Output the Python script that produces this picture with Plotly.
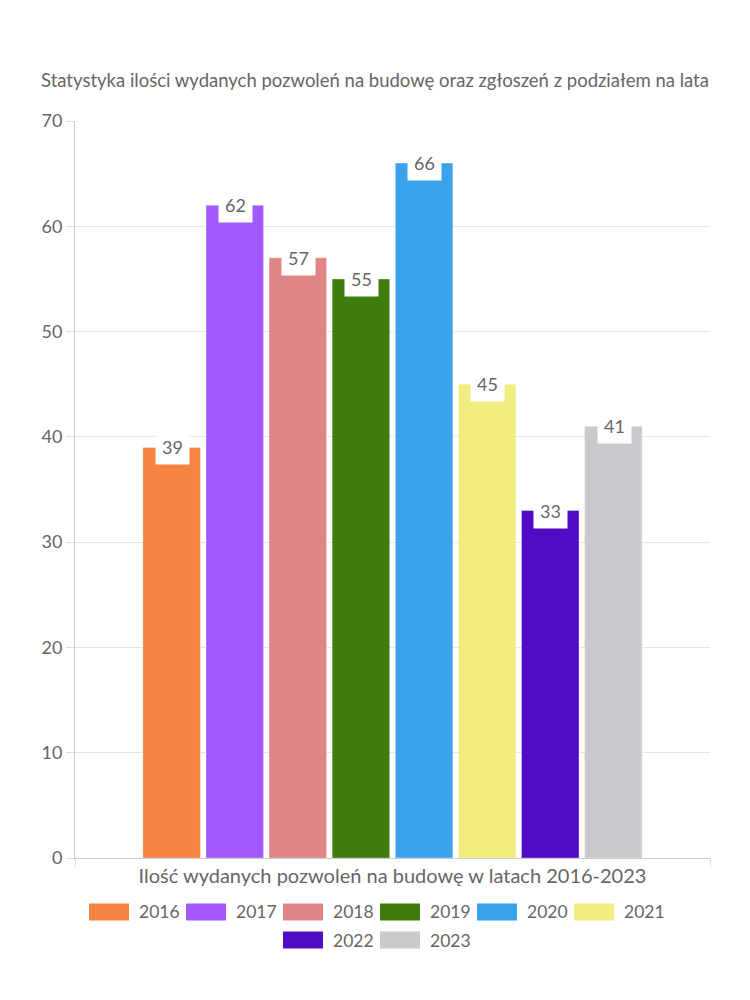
import plotly.graph_objects as go

years = ["2016", "2017", "2018", "2019", "2020", "2021", "2022", "2023"]
values = [39, 62, 57, 55, 66, 45, 33, 41]
colors = ["#F58442", "#A259FF", "#E08585", "#3E7C0E", "#38A3EB", "#F0EC7E", "#500BC4", "#C9CACE"]
category = "Ilość wydanych pozwoleń na budowę w latach 2016-2023"
title = "Statystyka ilości wydanych pozwoleń na budowę oraz zgłoszeń z podziałem na lata"
y_ticks = [0, 10, 20, 30, 40, 50, 60, 70]

W, H = 750, 1000
ML, MR, MT, MB = 75, 40, 121, 142
BARGAP = 0.205
FONT = "Lato"
TXT = "#666666"

fig = go.Figure()
for yr, v, c in zip(years, values, colors):
    fig.add_trace(go.Bar(
        x=[category], y=[v], name=yr, marker=dict(color=c, line=dict(color="rgba(255,255,255,0.35)", width=1)),
        showlegend=False, hoverinfo="y+name"))

# value labels on top of bars
n = len(years)
gw = 1 - BARGAP
slot = gw / n
annotations = []
for i, v in enumerate(values):
    annotations.append(dict(
        x=-gw / 2 + slot * (i + 0.5) + 0.001, y=v, xref="x", yref="y", text=str(v), showarrow=False,
        font=dict(family=FONT, size=18, color=TXT), bgcolor="white", borderpad=6,
        xanchor="center", yanchor="middle"))

# custom legend
shapes = []
box_w, box_h, gap, tw, item_gap = 40, 17, 10, 37, 10
rows = [years[:6], years[6:]]
row_y = [912, 940]
PW, PH = W - ML - MR, H - MT - MB
idx = 0
for r, row in enumerate(rows):
    item_w = box_w + gap + tw + item_gap
    total = len(row) * item_w - item_gap
    x0 = W / 2 - total / 2
    for j, yr in enumerate(row):
        bx = x0 + j * item_w
        yc = row_y[r]
        shapes.append(dict(type="rect", xref="paper", yref="paper",
                           x0=(bx - ML) / PW, x1=(bx + box_w - ML) / PW,
                           y0=(H - MB - (yc + box_h / 2)) / PH,
                           y1=(H - MB - (yc - box_h / 2)) / PH,
                           fillcolor=colors[idx], line=dict(width=0)))
        annotations.append(dict(
            x=(bx + box_w + gap - 2 - ML) / PW, y=(H - MB - yc) / PH,
            xref="paper", yref="paper", text=yr, showarrow=False, xanchor="left", yanchor="middle",
            font=dict(family=FONT, size=17.5, color=TXT)))
        idx += 1

fig.update_layout(
    width=W, height=H, template="plotly_white",
    margin=dict(l=ML, r=MR, t=MT, b=MB),
    paper_bgcolor="white", plot_bgcolor="white",
    barmode="group", bargap=BARGAP, bargroupgap=0.088,
    title=dict(text=title, x=0.5, xanchor="center", y=1 - 81 / H, yanchor="middle",
               font=dict(family=FONT, size=18.5, color=TXT)),
    font=dict(family=FONT, color=TXT),
    xaxis=dict(type="category", tickson="boundaries", ticks="outside", ticklen=8, tickcolor="#dddddd",
               showgrid=True, gridcolor="#e6e6e6", showline=True, linecolor="#cccccc",
               tickfont=dict(family=FONT, size=20, color=TXT), zeroline=False),
    yaxis=dict(range=[0, 70], tickvals=y_ticks, ticks="outside", ticklen=8, tickcolor="#dddddd",
               showgrid=True, gridcolor="#e6e6e6", showline=True, linecolor="#cccccc",
               tickfont=dict(family=FONT, size=18, color=TXT), zeroline=False),
    annotations=annotations, shapes=shapes,
)

fig.write_html("out.html")
